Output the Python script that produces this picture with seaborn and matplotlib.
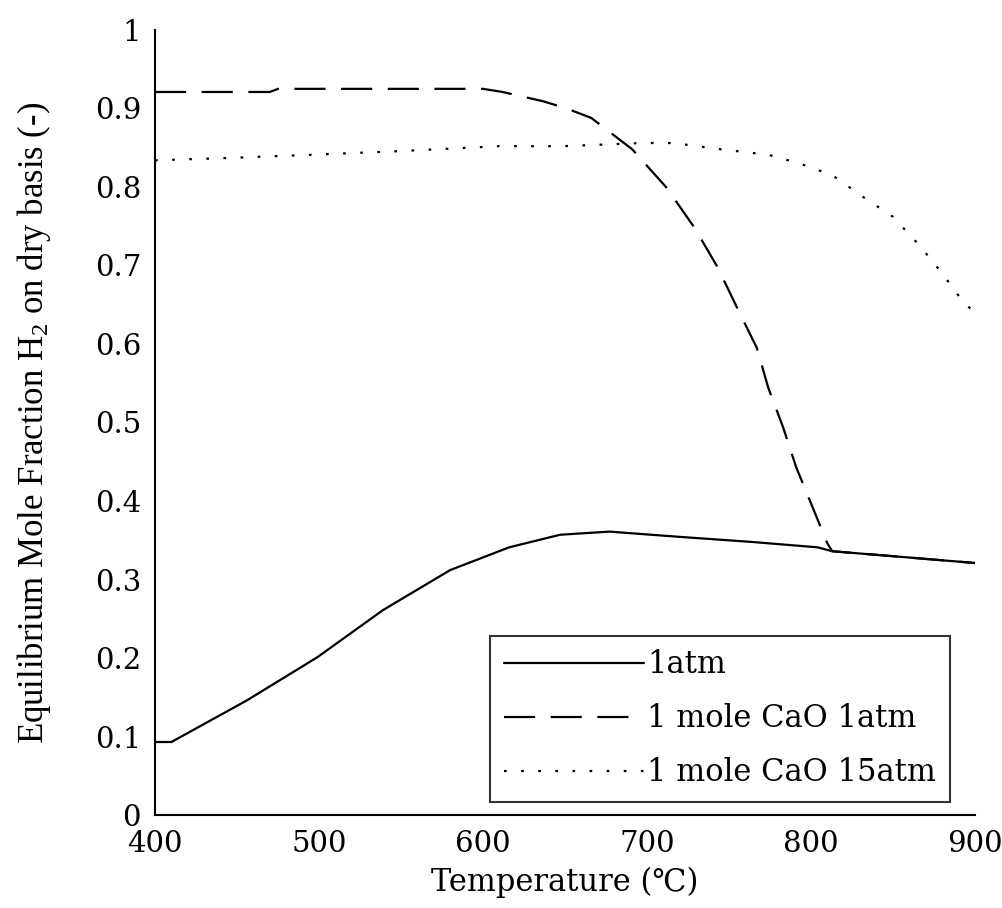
import pandas as pd
import seaborn as sns
import matplotlib.pyplot as plt

# values
temp_1atm = [400, 410, 456, 499, 539, 580, 616, 647, 677, 722, 763, 804, 813, 854, 900]
h2_1atm = [0.093, 0.093, 0.146, 0.201, 0.261, 0.312, 0.341, 0.357, 0.361, 0.354,
           0.348, 0.341, 0.336, 0.329, 0.321]

temp_cao_1atm = [400, 470, 475, 600, 612, 637, 651, 666, 691, 712, 729, 743, 755,
                 767, 774, 783, 791, 801, 810, 813, 854, 900]
h2_cao_1atm = [0.921, 0.921, 0.925, 0.925, 0.921, 0.909, 0.900, 0.888, 0.848, 0.799,
               0.748, 0.698, 0.646, 0.595, 0.544, 0.494, 0.443, 0.392, 0.346, 0.336,
               0.329, 0.321]

temp_cao_15atm = [400, 446, 495, 542, 572, 610, 649, 697, 716, 745, 774, 793, 813,
                  832, 850, 866, 880, 893, 900]
h2_cao_15atm = [0.834, 0.837, 0.841, 0.845, 0.848, 0.852, 0.852, 0.856, 0.856, 0.848,
                0.841, 0.830, 0.815, 0.787, 0.762, 0.726, 0.690, 0.653, 0.640]

labels = ['1atm', '1 mole CaO 1atm', '1 mole CaO 15atm']

df = pd.concat([
    pd.DataFrame({'T': temp_1atm, 'H2': h2_1atm, 'case': labels[0]}),
    pd.DataFrame({'T': temp_cao_1atm, 'H2': h2_cao_1atm, 'case': labels[1]}),
    pd.DataFrame({'T': temp_cao_15atm, 'H2': h2_cao_15atm, 'case': labels[2]}),
])

sns.set_style('white')
plt.rcParams['font.family'] = ['DejaVu Serif', 'DejaVu Sans']
plt.rcParams['mathtext.default'] = 'regular'
for k in ['text.color', 'axes.labelcolor', 'xtick.color', 'ytick.color']:
    plt.rcParams[k] = 'black'

fig = plt.figure(figsize=(10.02, 9.08), dpi=100)
ax = fig.add_axes([0.1547, 0.1024, 0.8183, 0.8646])

sns.lineplot(data=df, x='T', y='H2', style='case', color='black', linewidth=1.6,
             dashes={labels[0]: '', labels[1]: (14, 7), labels[2]: (1.2, 6.5)},
             sort=False, ax=ax)

ax.set_xlim(400, 900)
ax.set_ylim(0, 1)
ax.set_xticks([400, 500, 600, 700, 800, 900])
ax.set_yticks([0, 0.1, 0.2, 0.3, 0.4, 0.5, 0.6, 0.7, 0.8, 0.9, 1])
ax.set_yticklabels(['0', '0.1', '0.2', '0.3', '0.4', '0.5', '0.6', '0.7', '0.8', '0.9', '1'])
ax.tick_params(direction='in', length=6, width=1.5, labelsize=21)
ax.tick_params(axis='x', pad=11)
ax.tick_params(axis='y', pad=10)
for s in ['top', 'right']:
    ax.spines[s].set_visible(False)
for s in ['left', 'bottom']:
    ax.spines[s].set_color('black')
    ax.spines[s].set_linewidth(1.5)

ax.set_xlabel('Temperature (℃)', fontsize=22, labelpad=6)
ax.set_ylabel('Equilibrium Mole Fraction H$_2$ on dry basis (-)', fontsize=25,
              family=['Liberation Serif', 'DejaVu Serif'], labelpad=30)

leg = ax.legend(loc='lower right', bbox_to_anchor=(0.9695, 0.0166), borderaxespad=0,
                fontsize=22, handlelength=4.6, handletextpad=0.1, labelspacing=0.75,
                borderpad=0.45, fancybox=False, frameon=True)
leg.get_frame().set_edgecolor('black')
leg.get_frame().set_linewidth(1.5)

fig.savefig('out.png', dpi=100, facecolor='white')
